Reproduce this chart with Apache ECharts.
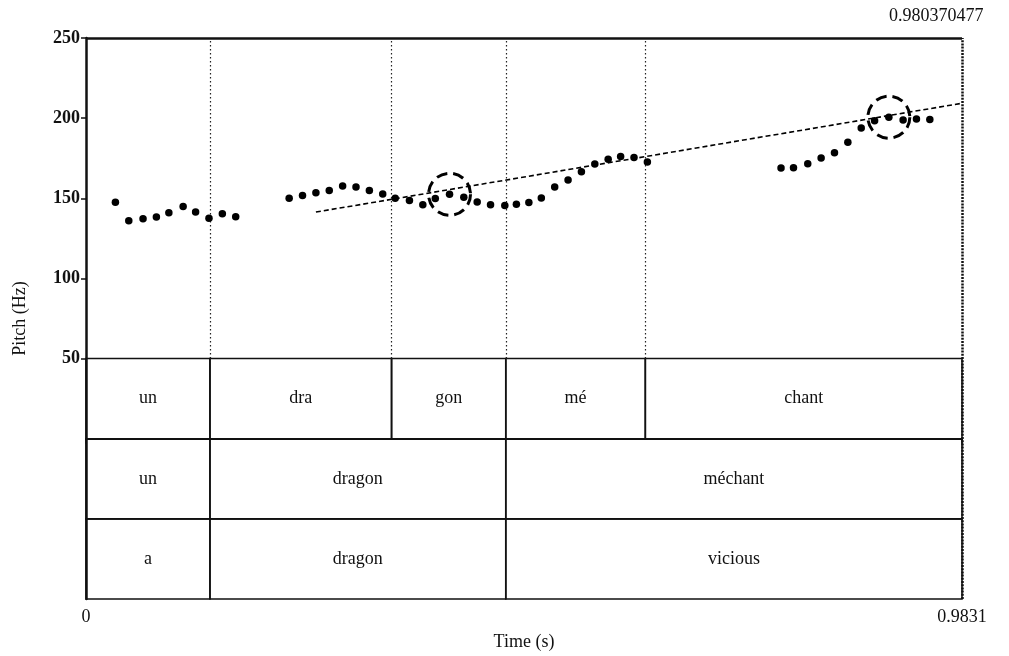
<!DOCTYPE html>
<html>
<head>
<meta charset="utf-8">
<script src="https://cdn.jsdelivr.net/npm/echarts@6/dist/echarts.min.js"></script>
<style>
  html, body { margin: 0; padding: 0; background: #fff; }
  #chart { width: 1009px; height: 656px; }
</style>
</head>
<body>
<div id="chart"></div>
<script>
// Pitch track of "un dragon méchant" with its syllable, word and gloss tiers
const totalDuration = 0.9831;
const cursorLabel = '0.980370477';

const pitchTime = [
  0.033, 0.048, 0.064, 0.079, 0.093, 0.109, 0.123, 0.138, 0.153, 0.168,
  0.228, 0.243, 0.258, 0.273, 0.288, 0.303, 0.318, 0.333, 0.347, 0.363,
  0.378, 0.392, 0.408, 0.424, 0.439, 0.454, 0.470, 0.483, 0.497, 0.511,
  0.526, 0.541, 0.556, 0.571, 0.586, 0.600, 0.615, 0.630,
  0.780, 0.794, 0.810, 0.825, 0.840, 0.855, 0.870, 0.885, 0.901, 0.917,
  0.932, 0.947
];
const pitchHz = [
  147.5, 136.0, 137.2, 138.3, 140.9, 144.9, 141.5, 137.6, 140.3, 138.5,
  150.0, 151.7, 153.5, 154.9, 157.6, 157.0, 154.8, 152.7, 150.0, 148.6,
  145.9, 149.8, 152.5, 150.6, 147.7, 145.9, 145.5, 146.3, 147.3, 150.2,
  157.0, 161.4, 166.5, 171.4, 174.3, 176.1, 175.5, 172.7,
  168.9, 169.1, 171.6, 175.1, 178.4, 185.0, 193.8, 198.3, 200.6, 198.8,
  199.4, 199.2
];
// indices of the pitch samples ringed as peaks
const peakIndex = [22, 46];

// declination line (time, Hz) at both ends
const trendTime = [0.258, 0.9831];
const trendHz = [141.4, 209.3];

// annotation tiers
const syllables = ['un', 'dra', 'gon', 'mé', 'chant'];
const syllableBounds = [0, 0.1391, 0.3429, 0.4711, 0.6277, 0.9831];
const words = ['un', 'dragon', 'méchant'];
const wordBounds = [0, 0.1391, 0.4711, 0.9831];
const gloss = ['a', 'dragon', 'vicious'];
const glossBounds = [0, 0.1391, 0.4711, 0.9831];

const yTicks = [50, 100, 150, 200, 250];
const xTicks = [0, 0.9831];

const FONT = 'Liberation Serif';
const FS = 18;
const INK = '#111';

function tierBoxes(labels, bounds, top, bottom) {
  return labels.map((name, i) => [
    { name: name, xAxis: bounds[i], yAxis: top },
    { xAxis: bounds[i + 1], yAxis: bottom }
  ]);
}

const boxes = [].concat(
  tierBoxes(syllables, syllableBounds, 50, 0),
  tierBoxes(words, wordBounds, 0, -50),
  tierBoxes(gloss, glossBounds, -50, -100)
);

// dotted syllable boundaries across the pitch panel
const boundaryLines = syllableBounds.slice(1, -1).map(t => [
  { coord: [t, 50] }, { coord: [t, 250] }
]);

const points = pitchTime.map((t, i) => [t, pitchHz[i]]);

const chart = echarts.init(document.getElementById('chart'), null, { renderer: 'canvas' });
chart.setOption({
  animation: false,
  backgroundColor: '#fff',
  title: {
    text: cursorLabel,
    left: 884,
    top: 2,
    textStyle: { fontFamily: FONT, fontSize: FS, fontWeight: 'normal', color: INK }
  },
  grid: { left: 86, right: 47, top: 38, bottom: 52, containLabel: false },
  xAxis: {
    type: 'value',
    min: 0,
    max: totalDuration,
    name: 'Time (s)',
    nameLocation: 'middle',
    nameGap: 34,
    nameTextStyle: { fontFamily: FONT, fontSize: FS, color: INK },
    axisLine: { show: true, lineStyle: { color: INK, width: 2 } },
    axisTick: { show: true, customValues: xTicks, length: 5, lineStyle: { color: INK, width: 1.5 } },
    axisLabel: {
      customValues: xTicks,
      fontFamily: FONT, fontSize: FS, color: INK, margin: 9,
      formatter: v => (v === 0 ? '0' : '0.9831')
    },
    splitLine: { show: false }
  },
  yAxis: {
    type: 'value',
    min: -100,
    max: 250,
    interval: 50,
    name: 'Pitch (Hz)',
    nameLocation: 'middle',
    nameGap: 57,
    nameTextStyle: { fontFamily: FONT, fontSize: FS, color: INK },
    axisLine: { show: true, lineStyle: { color: INK, width: 2.5 } },
    axisTick: { show: true, customValues: yTicks, length: 5, lineStyle: { color: INK, width: 1.5 } },
    axisLabel: {
      customValues: yTicks,
      fontFamily: FONT, fontSize: FS, fontWeight: 'bold', color: INK, margin: 6
    },
    splitLine: { show: false }
  },
  series: [
    {
      type: 'scatter',
      data: points,
      symbol: 'circle',
      symbolSize: 7.5,
      itemStyle: { color: '#000', opacity: 1 },
      silent: true,
      z: 5,
      markArea: {
        silent: true,
        itemStyle: { color: 'rgba(0,0,0,0)', borderColor: INK, borderWidth: 1.6 },
        label: {
          show: true,
          position: 'inside',
          fontFamily: FONT, fontSize: FS, color: INK
        },
        data: boxes
      },
      markLine: {
        silent: true,
        symbol: ['none', 'none'],
        label: { show: false },
        lineStyle: { color: '#222', width: 1.2, type: [1.5, 2.5] },
        data: boundaryLines.concat([
          [
            { coord: [0, 250], lineStyle: { type: 'solid', width: 2.5, color: INK } },
            { coord: [totalDuration, 250] }
          ],
          [
            { coord: [totalDuration, -100], lineStyle: { type: [2, 1.2], width: 2.5, color: INK } },
            { coord: [totalDuration, 250] }
          ]
        ])
      }
    },
    {
      type: 'line',
      data: trendTime.map((t, i) => [t, trendHz[i]]),
      symbol: 'none',
      silent: true,
      lineStyle: { color: '#000', width: 1.6, type: [5, 3] },
      z: 4
    },
    {
      type: 'scatter',
      data: peakIndex.map(i => points[i]),
      symbol: 'circle',
      symbolSize: 42,
      silent: true,
      itemStyle: {
        color: 'rgba(0,0,0,0)',
        opacity: 1,
        borderColor: '#000',
        borderWidth: 3,
        borderType: [11, 6]
      },
      z: 6
    }
  ]
});
</script>
</body>
</html>
